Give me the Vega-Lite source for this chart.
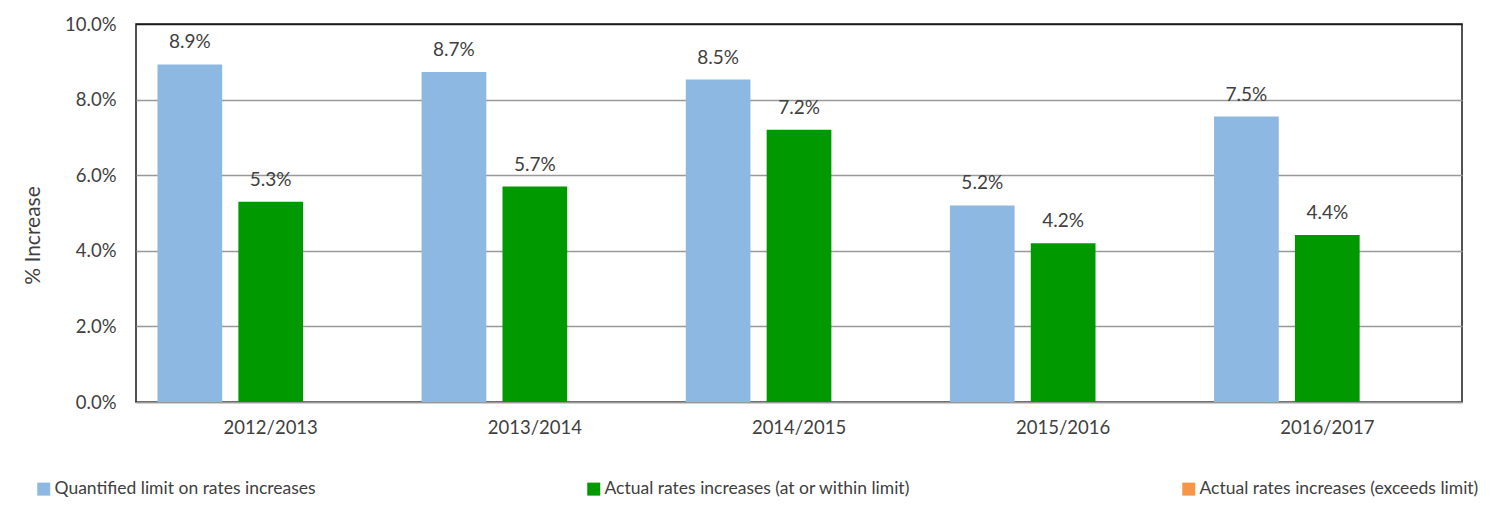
{
  "$schema": "https://vega.github.io/schema/vega-lite/v6.json",
  "width": 1326,
  "height": 378,
  "autosize": {"type": "none"},
  "padding": {"left": 136, "top": 24, "right": 40, "bottom": 115},
  "background": "white",
  "config": {
    "font": "Lato",
    "view": {"stroke": "#1a1a1a", "strokeWidth": 1.5},
    "axis": {"labelColor": "#404040", "titleColor": "#404040", "labelFont": "Lato", "titleFont": "Lato"}
  },
  "data": {
    "values": [
      {"year": "2012/2013", "series": "Quantified limit on rates increases", "value": 0.0893},
      {"year": "2012/2013", "series": "Actual rates increases (at or within limit)", "value": 0.053},
      {"year": "2013/2014", "series": "Quantified limit on rates increases", "value": 0.0873},
      {"year": "2013/2014", "series": "Actual rates increases (at or within limit)", "value": 0.057},
      {"year": "2014/2015", "series": "Quantified limit on rates increases", "value": 0.0853},
      {"year": "2014/2015", "series": "Actual rates increases (at or within limit)", "value": 0.072},
      {"year": "2015/2016", "series": "Quantified limit on rates increases", "value": 0.052},
      {"year": "2015/2016", "series": "Actual rates increases (at or within limit)", "value": 0.042},
      {"year": "2016/2017", "series": "Quantified limit on rates increases", "value": 0.0755},
      {"year": "2016/2017", "series": "Actual rates increases (at or within limit)", "value": 0.0442}
    ]
  },
  "encoding": {
    "x": {
      "field": "year",
      "type": "nominal",
      "scale": {"paddingInner": 0.02, "paddingOuter": 0.02},
      "axis": {
        "title": null,
        "labelAngle": 0,
        "labelFontSize": 18.5,
        "labelPadding": 16,
        "ticks": false,
        "domainColor": "#999999",
        "domainWidth": 1.5
      }
    },
    "xOffset": {
      "field": "series",
      "type": "nominal",
      "scale": {
        "domain": ["Quantified limit on rates increases", "Actual rates increases (at or within limit)", "Actual rates increases (exceeds limit)"],
        "paddingInner": 0.2,
        "paddingOuter": 0.2
      }
    },
    "y": {
      "field": "value",
      "type": "quantitative",
      "scale": {"domain": [0, 0.1], "nice": false},
      "axis": {
        "title": "% Increase",
        "format": ".1%",
        "values": [0, 0.02, 0.04, 0.06, 0.08, 0.1],
        "labelFontSize": 18.5,
        "labelPadding": 20,
        "ticks": false,
        "domain": false,
        "titleFontSize": 21,
        "titleFontWeight": "normal",
        "titleX": -93,
        "titleY": 211,
        "gridColor": {"condition": {"test": "datum.value >= 0.1", "value": "#1a1a1a"}, "value": "#999999"},
        "gridWidth": 1.5
      }
    }
  },
  "layer": [
    {
      "mark": {"type": "bar"},
      "encoding": {
        "color": {
          "field": "series",
          "type": "nominal",
          "scale": {
            "domain": ["Quantified limit on rates increases", "Actual rates increases (at or within limit)", "Actual rates increases (exceeds limit)"],
            "range": ["#8db8e2", "#009900", "#f79646"]
          },
          "legend": {
            "title": null,
            "orient": "none",
            "legendX": -101,
            "legendY": 456,
            "direction": "horizontal",
            "columns": 3,
            "columnPadding": 269,
            "padding": 0,
            "symbolType": "square",
            "symbolSize": 169,
            "symbolStrokeWidth": 0,
            "symbolOpacity": 1,
            "labelFontSize": 17.5,
            "labelColor": "#404040",
            "labelOffset": 2,
            "labelLimit": 500
          }
        }
      }
    },
    {
      "mark": {"type": "text", "dy": -16, "baseline": "alphabetic", "fontSize": 19, "color": "#404040"},
      "encoding": {
        "text": {"field": "value", "type": "quantitative", "format": ".1%"}
      }
    }
  ]
}
